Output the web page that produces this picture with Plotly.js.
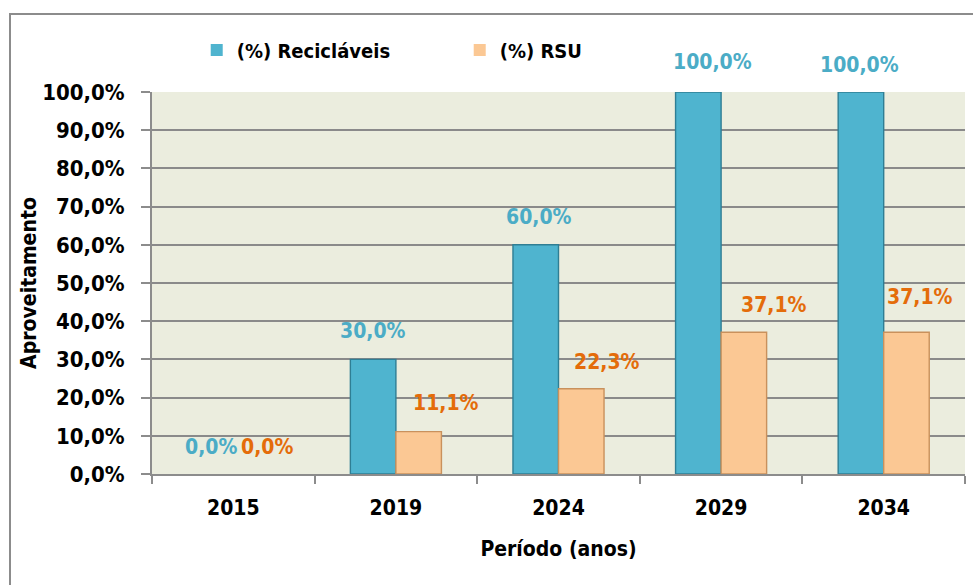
<!DOCTYPE html>
<html>
<head>
<meta charset="utf-8">
<script src="https://cdn.plot.ly/plotly-3.0.1.min.js"></script>
<style>
  html, body { margin: 0; padding: 0; background: #ffffff; }
  #wrap { position: relative; width: 973px; height: 585px; overflow: hidden; }
  #frame { position: absolute; left: 9px; top: 13px; width: 1000px; height: 600px;
           border-left: 2px solid #8c8c8c; border-top: 2px solid #8c8c8c; }
  #chart { position: absolute; left: 0; top: 0; width: 973px; height: 585px; }
</style>
</head>
<body>
<div id="wrap">
  <div id="frame"></div>
  <div id="chart"></div>
</div>
<script>
// ---- data ----
const periods = ['2015', '2019', '2024', '2029', '2034'];
const reciclaveis = [0.0, 0.30, 0.60, 1.00, 1.00];
const rsu = [0.0, 0.111, 0.223, 0.371, 0.371];
const seriesNames = ['(%) Recicláveis', '(%) RSU'];

// ---- style ----
const FONT = '"DejaVu Sans Condensed", "Liberation Sans Narrow", "Arial Narrow", sans-serif';
const tealFill = '#4FB4CF';
const tealLine = '#2F7E94';
const peachFill = '#FBC894';
const peachLine = '#C9915C';
const tealText = '#4BACC6';
const orangeText = '#E46C0A';
const barHalf = 22.75;               // half bar width in px (for label placement)
const tealNudge = [0, 0, 3, 14, -1];  // label x nudges (px)
const orangeNudge = [11, 27, 26, 30, 14];
const tealLift = [27, 28, 28, 30, 27];
const orangeLift = [27, 29, 27, 27, 35];

function fmt(v) { return (v * 100).toFixed(1).replace('.', ',') + '%'; }
function lineWidths(vals) { return vals.map(v => (v > 0 ? 1.4 : 0)); }

const traces = [
  { type: 'bar', name: seriesNames[0], x: periods, y: reciclaveis,
    marker: { color: tealFill, line: { color: tealLine, width: lineWidths(reciclaveis) } }, hoverinfo: 'skip' },
  { type: 'bar', name: seriesNames[1], x: periods, y: rsu,
    marker: { color: peachFill, line: { color: peachLine, width: lineWidths(rsu) } }, hoverinfo: 'skip' }
];

const annotations = [];
periods.forEach((p, i) => {
  annotations.push({ x: i, y: reciclaveis[i], xref: 'x', yref: 'y', text: fmt(reciclaveis[i]),
    showarrow: false, xshift: -barHalf + tealNudge[i], yshift: tealLift[i], yanchor: 'middle',
    font: { family: FONT, size: 21, color: tealText, weight: 'bold' } });
  annotations.push({ x: i, y: rsu[i], xref: 'x', yref: 'y', text: fmt(rsu[i]),
    showarrow: false, xshift: barHalf + orangeNudge[i], yshift: orangeLift[i], yanchor: 'middle',
    font: { family: FONT, size: 21, color: orangeText, weight: 'bold' } });
});

const layout = {
  width: 973, height: 585,
  margin: { l: 152, r: 8, t: 92, b: 111, pad: 0 },
  paper_bgcolor: 'rgba(0,0,0,0)',
  plot_bgcolor: '#EBEDDE',
  separators: ',.',
  barmode: 'group',
  bargap: 0.44,
  bargroupgap: 0,
  font: { family: FONT, size: 21, color: '#000000', weight: 'bold' },
  showlegend: true,
  legend: { orientation: 'h', x: 0.055, xanchor: 'left', y: 1.11, yanchor: 'middle',
            font: { family: FONT, size: 20, color: '#000', weight: 'bold' },
            itemwidth: 30, entrywidth: 218, bgcolor: 'rgba(0,0,0,0)', traceorder: 'normal' },
  xaxis: {
    type: 'category',
    range: [-0.5, 4.5],
    showline: true, linecolor: '#8c8c8c', linewidth: 2,
    ticks: 'outside', tickson: 'boundaries', ticklen: 8, tickcolor: '#8c8c8c', tickwidth: 2,
    tickfont: { family: FONT, size: 21, color: '#000', weight: 'bold' },
    ticklabelstandoff: 14,
    title: { text: 'Período (anos)', standoff: 22,
             font: { family: FONT, size: 21, color: '#000', weight: 'bold' } },
    showgrid: false, fixedrange: true
  },
  yaxis: {
    range: [0, 1.0],
    dtick: 0.1, tick0: 0,
    tickformat: '.1%',
    showline: true, linecolor: '#8c8c8c', linewidth: 2,
    ticks: 'outside', ticklen: 9, tickcolor: '#8c8c8c', tickwidth: 2,
    ticklabelstandoff: 12,
    tickfont: { family: FONT, size: 22, color: '#000', weight: 'bold' },
    showgrid: true, gridcolor: '#8a8a8a', gridwidth: 2,
    zeroline: false,
    title: { text: 'Aproveitamento', standoff: 0,
             font: { family: FONT, size: 21, color: '#000', weight: 'bold' } },
    fixedrange: true
  },
  annotations: annotations
};

Plotly.newPlot('chart', traces, layout, { displayModeBar: false, staticPlot: true });
</script>
</body>
</html>
